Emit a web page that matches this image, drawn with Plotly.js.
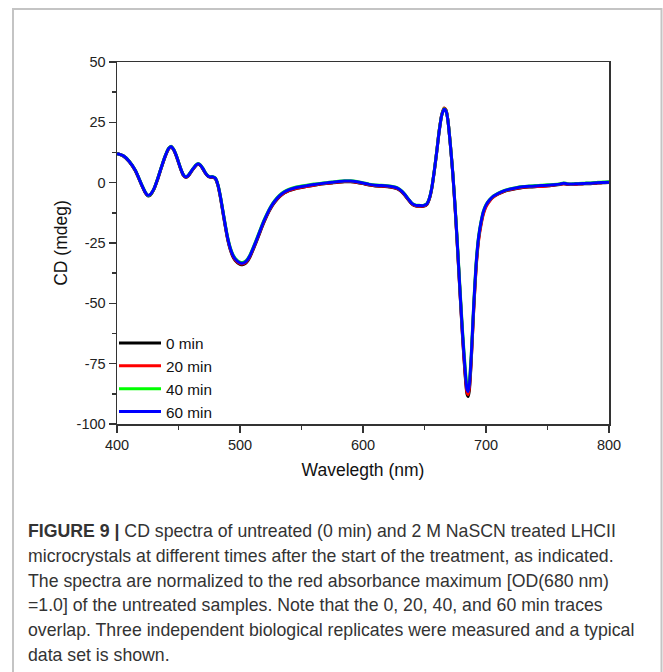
<!DOCTYPE html>
<html>
<head>
<meta charset="utf-8">
<script src="https://cdn.plot.ly/plotly-3.0.1.min.js"></script>
<style>
  html, body { margin: 0; padding: 0; background: #ffffff; }
  #chart { width: 663px; height: 672px; }
</style>
</head>
<body>
<div id="chart"></div>
<script>
// ---------------- DATA ----------------
const wavelength = [400,405,410,415,420,423,425,427,430,433,436,439,442,444,446,448,450,452,454,456,458,461,464,466,468,470,472,474,476,478,480,482,484,486,488,490,492,494,496,498,500,502,504,506,508,510,513,516,519,522,525,528,532,536,540,545,550,555,560,565,570,575,580,585,590,595,600,605,610,615,620,625,628,631,634,637,640,643,646,649,652,654,656,658,660,662,664,666,667.5,669,671,673,675,677,679,681,683,684.5,685.5,686.5,688,690,692,694,696,698,700,703,706,710,715,720,725,730,735,740,745,750,755,760,763,766,770,775,780,785,790,795,800];

const cd0min = [12.1,11.1,8.7,4.8,-1.0, -4.2,-5.5,-5.2,-2.8,1.3, 6.1,10.6,14.0,14.9,13.6, 11.3,8.3,5.3,3.0,2.1, 2.8,5.0,7.0,7.6,7.0, 5.5,3.8,2.6,2.2,2.2, 1.6,-1.1,-5.9,-12.0,-18.1, -23.6,-27.6,-30.4,-32.2,-33.2, -33.8,-34.0,-33.6,-32.6,-30.9, -28.6,-24.9,-20.9,-17.0,-13.5, -10.6,-8.3,-5.9,-4.3,-3.3, -2.5,-2.0,-1.5,-1.1,-0.7, -0.4,-0.1,0.2,0.4,0.4, 0.1,-0.4,-1.0,-1.4,-1.5, -1.7,-2.1,-2.6,-3.6,-5.2, -7.2,-9.0,-9.7,-9.8,-9.8, -9.0,-6.7,-2.2,4.8,12.9, 21.5,28.0,30.8,30.0,26.0, 15.8,3.6,-11.5,-28.8,-47.0, -64.5,-79.5,-87.5,-88.6,-86.0, -74.0,-52.5,-34.5,-23.2,-16.8, -12.3,-9.7,-7.4,-5.9,-4.7, -3.6,-2.9,-2.4,-2.0,-1.8, -1.7,-1.5,-1.3,-1.1,-0.8, -0.4,-0.7,-0.8,-0.6,-0.5, -0.4,-0.2,0.0,0.1];

const cd20min = [12.0,11.1,8.8,4.9,-0.9, -4.1,-5.3,-5.0,-2.7,1.4, 6.2,10.7,14.1,15.0,13.7, 11.4,8.4,5.4,3.1,2.2, 2.9,5.1,7.1,7.7,7.1, 5.6,3.9,2.7,2.3,2.3, 1.7,-0.9,-5.7,-11.7,-17.8, -23.3,-27.3,-30.1,-31.9,-32.9, -33.5,-33.7,-33.3,-32.3,-30.6, -28.3,-24.6,-20.6,-16.7,-13.3, -10.4,-8.1,-5.8,-4.2,-3.2, -2.4,-1.9,-1.5,-1.1,-0.6, -0.3,0.0,0.3,0.5,0.5, 0.2,-0.3,-0.9,-1.3,-1.4, -1.6,-2.0,-2.5,-3.5,-5.1, -7.1,-8.9,-9.6,-9.7,-9.7, -8.9,-6.6,-2.1,5.0,13.2, 21.8,28.2,30.9,30.0,26.1, 16.0,3.8,-11.3,-28.5,-46.6, -63.9,-78.8,-86.8,-87.8,-85.0, -73.5,-52.8,-35.2,-24.0,-17.4, -12.8,-10.0,-7.6,-6.0,-4.7, -3.5,-2.8,-2.3,-1.9,-1.7, -1.6,-1.6,-1.4,-1.0,-0.7, -0.5,-0.6,-0.8,-0.5,-0.3, -0.3,-0.1,0.1,0.2];

const cd40min = [12.0,11.2,8.9,5.1,-0.7, -3.9,-5.3,-5.0,-2.6,1.6, 6.4,10.9,14.3,15.1,13.9, 11.6,8.6,5.6,3.3,2.4, 3.1,5.3,7.3,7.9,7.3, 5.8,4.1,2.9,2.5,2.5, 1.9,-0.7,-5.3,-11.3,-17.2, -22.7,-26.7,-29.5,-31.3,-32.3, -32.9,-33.1,-32.7,-31.7,-30.0, -27.7,-24.0,-20.0,-16.1,-12.8, -9.9,-7.6,-5.3,-3.7,-2.7, -1.9,-1.4,-1.0,-0.6,-0.3, 0.0,0.3,0.6,0.8,0.8, 0.5,0.0,-0.6,-1.0,-1.1, -1.3,-1.7,-2.2,-3.2,-4.8, -6.8,-8.6,-9.3,-9.4,-9.4, -8.6,-6.3,-1.8,5.2,13.3, 21.8,28.0,30.6,29.8,26.0, 16.1,4.2,-10.5,-27.2,-45.0, -61.8,-76.0,-84.2,-85.3,-82.5, -71.0,-50.5,-33.0,-22.2,-16.0, -11.6,-9.1,-7.0,-5.5,-4.3, -3.2,-2.5,-2.0,-1.6,-1.4, -1.2,-1.1,-0.9,-0.8,-0.5, -0.1,-0.4,-0.5,-0.3,-0.2, -0.1,0.1,0.3,0.4];

const cd60min = [12.0,11.2,8.8,5.0,-0.8, -4.0,-5.2,-4.9,-2.6,1.5, 6.3,10.8,14.2,15.0,13.8, 11.5,8.5,5.5,3.2,2.3, 3.0,5.2,7.2,7.8,7.2, 5.7,4.0,2.8,2.4,2.4, 1.8,-0.8,-5.5,-11.5,-17.5, -23.0,-27.0,-29.8,-31.6,-32.6, -33.2,-33.4,-33.0,-32.0,-30.3, -28.0,-24.3,-20.3,-16.4,-13.0, -10.1,-7.8,-5.5,-3.9,-2.9, -2.1,-1.6,-1.2,-0.8,-0.4, -0.1,0.2,0.5,0.7,0.7, 0.4,-0.1,-0.7,-1.1,-1.2, -1.4,-1.8,-2.3,-3.3,-4.9, -6.9,-8.7,-9.4,-9.5,-9.5, -8.7,-6.4,-1.9,5.1,13.1, 21.6,27.9,30.4,29.7,25.9, 15.9,3.9,-11.0,-28.0,-46.0, -63.0,-77.5,-85.5,-86.5,-83.5, -72.0,-51.0,-33.5,-22.5,-16.2, -11.8,-9.3,-7.1,-5.6,-4.4, -3.3,-2.6,-2.1,-1.7,-1.5, -1.4,-1.2,-1.1,-0.9,-0.6, -0.2,-0.5,-0.6,-0.4,-0.3, -0.2,0.0,0.1,0.2];

const seriesNames = ['0 min', '20 min', '40 min', '60 min'];
const seriesValues = [cd0min, cd20min, cd40min, cd60min];

const xTickVals = [400, 500, 600, 700, 800];
const xTickText = ['400', '500', '600', '700', '800'];
const yTickVals = [50, 25, 0, -25, -50, -75, -100];
const yTickText = ['50', '25', '0', '-25', '-50', '-75', '-100'];

const xTitle = 'Wavelegth (nm)';
const yTitle = 'CD (mdeg)';

const captionLines = [
  '<b>FIGURE 9 |</b> CD spectra of untreated (0 min) and 2 M NaSCN treated LHCII',
  'microcrystals at different times after the start of the treatment, as indicated.',
  'The spectra are normalized to the red absorbance maximum [OD(680 nm)',
  '=1.0] of the untreated samples. Note that the 0, 20, 40, and 60 min traces',
  'overlap. Three independent biological replicates were measured and a typical',
  'data set is shown.'
];

// ---------------- STYLE / LAYOUT ----------------
const seriesColors = ['#000000', '#ff0000', '#00ff00', '#0000ff'];
const FONT = 'Liberation Sans, Arial, Helvetica, sans-serif';

const W = 663, H = 672;
const M = { l: 117, r: 54, t: 62, b: 248 };
const plotW = W - M.l - M.r;   // 492
const plotH = H - M.t - M.b;   // 362
const px2x = px => (px - M.l) / plotW;
const py2y = py => (H - M.b - py) / plotH;

const traces = seriesValues.map((vals, i) => ({
  type: 'scatter',
  mode: 'lines',
  name: seriesNames[i],
  x: wavelength,
  y: vals,
  line: { color: seriesColors[i], width: 3, shape: 'spline', smoothing: 0.6 },
  hoverinfo: 'skip'
}));

const axisCommon = {
  showline: true, linecolor: '#333333', linewidth: 1.5, mirror: true,
  ticks: 'outside', ticklen: 7, tickwidth: 1.5, tickcolor: '#333333',
  showgrid: false, zeroline: false,
  tickfont: { family: FONT, size: 14.5, color: '#222222' }
};

const captionStartY = 531, captionStep = 24.8;
const annotations = captionLines.map((t, i) => ({
  xref: 'paper', yref: 'paper',
  x: px2x(26), y: py2y(captionStartY + i * captionStep),
  xanchor: 'left', yanchor: 'middle',
  text: t, showarrow: false, align: 'left',
  font: { family: FONT, size: 17.7, color: '#333333' }
}));

const layout = {
  width: W, height: H,
  margin: M,
  paper_bgcolor: '#ffffff',
  plot_bgcolor: '#ffffff',
  showlegend: true,
  legend: {
    x: px2x(114), xanchor: 'left',
    y: py2y(326.5), yanchor: 'top',
    bgcolor: 'rgba(0,0,0,0)',
    font: { family: FONT, size: 15.3, color: '#111111' },
    itemwidth: 42,
    tracegroupgap: 0
  },
  xaxis: Object.assign({}, axisCommon, {
    range: [400, 800],
    tickmode: 'array', tickvals: xTickVals, ticktext: xTickText,
    minor: { tickmode: 'linear', tick0: 400, dtick: 50, ticks: 'outside', ticklen: 4, tickwidth: 1.5, tickcolor: '#333333', showgrid: false },
    title: { text: xTitle, font: { family: FONT, size: 17.5, color: '#111111' }, standoff: 12 }
  }),
  yaxis: Object.assign({}, axisCommon, {
    range: [-100, 50],
    tickmode: 'array', tickvals: yTickVals, ticktext: yTickText,
    minor: { tickmode: 'linear', tick0: 0, dtick: 12.5, ticks: 'outside', ticklen: 4, tickwidth: 1.5, tickcolor: '#333333', showgrid: false },
    title: { text: yTitle, font: { family: FONT, size: 17.5, color: '#111111' }, standoff: 4 }
  }),
  shapes: [{
    type: 'rect', xref: 'paper', yref: 'paper', layer: 'below',
    x0: px2x(13), x1: px2x(661.5), y0: py2y(700), y1: py2y(9),
    line: { color: '#c4c4c4', width: 2 }, fillcolor: 'rgba(0,0,0,0)'
  }],
  annotations: annotations
};

Plotly.newPlot('chart', traces, layout, { displayModeBar: false, staticPlot: true });
</script>
</body>
</html>
